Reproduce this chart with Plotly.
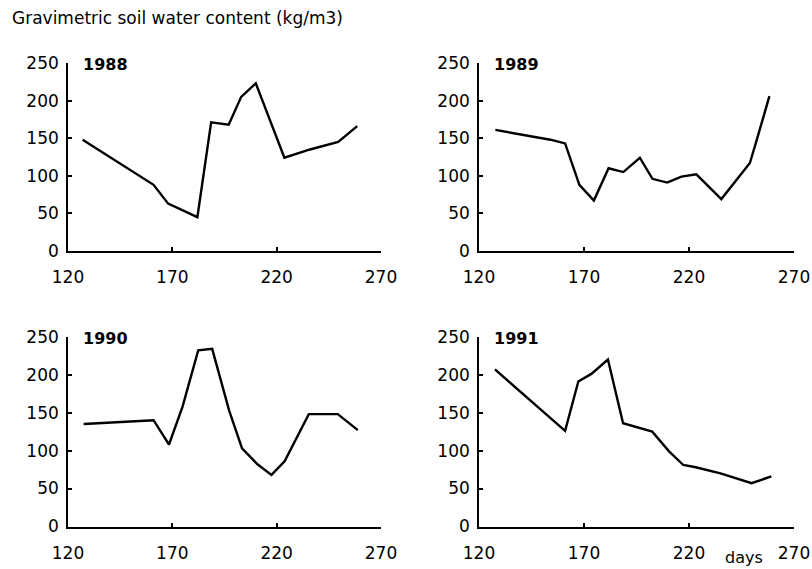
import plotly.graph_objects as go

# Day of year
days_1988 = [127, 161, 168, 182, 188.6, 197, 203, 210, 223.7, 236, 249.5, 258.6]
swc_1988 = [148, 88, 63, 45, 171, 168, 205, 223, 124, 135, 145, 166]

days_1989 = [127.8, 154, 161, 167.8, 174.7, 181.7, 188.7, 196.6, 202.6, 209.6, 216.4, 223.5, 235.4, 249, 252.3, 258.3]
swc_1989 = [161, 148, 143, 88, 67, 110, 105, 124, 96, 91, 99, 102, 69, 117, 148, 206]

days_1990 = [127.5, 161, 168.4, 174.9, 182.4, 189.1, 197.2, 203.4, 210.8, 217.5, 223.8, 235.4, 249.3, 258.9]
swc_1990 = [135, 140, 108, 158, 232, 234, 153, 103, 82, 68, 86, 148, 148, 127]

days_1991 = [127.6, 161, 167.3, 173.5, 181.4, 188.6, 202.5, 210.5, 217.3, 223.2, 235, 249.8, 259.2]
swc_1991 = [207, 126, 191, 201, 220, 136, 125, 99, 81, 78, 70, 57, 66]

years = ["1988", "1989", "1990", "1991"]
xticks = [120, 170, 220, 270]
yticks = [0, 50, 100, 150, 200, 250]

series = [(days_1988, swc_1988), (days_1989, swc_1989), (days_1990, swc_1990), (days_1991, swc_1991)]

W, H = 812, 569
xdoms = [[68 / W, 381 / W], [479 / W, 794 / W], [68 / W, 381 / W], [479 / W, 794 / W]]
ydoms = [[1 - 251 / H, 1 - 63 / H], [1 - 251 / H, 1 - 63 / H], [1 - 526.5 / H, 1 - 336.7 / H], [1 - 526.5 / H, 1 - 336.7 / H]]

FONT = "DejaVu Sans, Arial, sans-serif"
fig = go.Figure()
layout = {}
for i, (xs, ys) in enumerate(series):
    n = "" if i == 0 else str(i + 1)
    fig.add_trace(go.Scatter(x=xs, y=ys, mode="lines", xaxis="x" + n, yaxis="y" + n,
                             line=dict(color="black", width=2.4), showlegend=False, hoverinfo="skip"))
    common = dict(showline=True, linecolor="black", linewidth=1.6, showgrid=False, zeroline=False,
                  ticks="inside", tickcolor="black", ticklen=4, tickwidth=1.5, automargin=False,
                  tickfont=dict(family=FONT, size=17, color="black"))
    layout["xaxis" + n] = dict(common, domain=xdoms[i], range=[120, 270], tickvals=xticks,
                               anchor="y" + n, ticklabelstandoff=10)
    layout["yaxis" + n] = dict(common, domain=ydoms[i], range=[0, 250], tickvals=yticks,
                               anchor="x" + n, ticklabelstandoff=4)
    fig.add_annotation(text="<b>" + years[i] + "</b>", xref="x" + n + " domain", yref="y" + n + " domain",
                       x=0.04, y=0.99, xanchor="left", yanchor="middle", showarrow=False,
                       font=dict(family=FONT, size=16, color="black"))

fig.update_layout(**layout)
fig.add_annotation(text="Gravimetric soil water content (kg/m3)", xref="paper", yref="paper",
                   x=10 / W, y=1 - 18 / H, xanchor="left", yanchor="middle", showarrow=False,
                   font=dict(family=FONT, size=17, color="black"))
fig.add_annotation(text="days", xref="x4 domain", yref="y4 domain", x=0.84, y=-0.165,
                   xanchor="center", yanchor="middle", showarrow=False,
                   font=dict(family=FONT, size=16, color="black"))
fig.update_layout(width=W, height=H, margin=dict(l=0, r=0, t=0, b=0, autoexpand=False),
                  paper_bgcolor="white", plot_bgcolor="white")
fig.write_html("out.html")
